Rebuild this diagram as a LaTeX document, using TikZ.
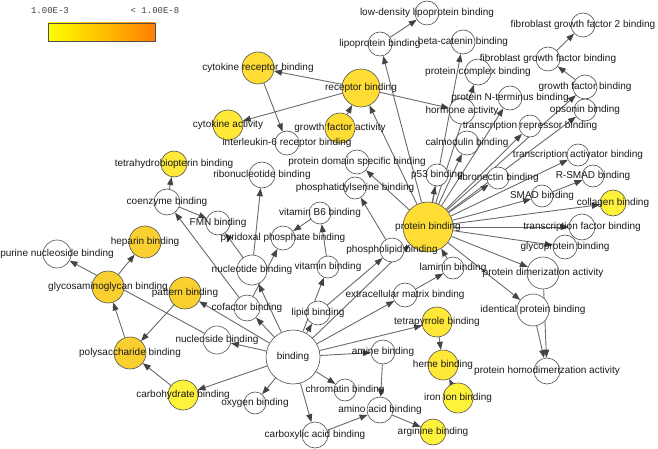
\documentclass[tikz,border=0pt]{standalone}
\usepackage{fontspec}
\setmainfont{Liberation Sans}
\newfontfamily\legendfont{Liberation Mono}
\usetikzlibrary{arrows.meta}
\pgfdeclarelayer{edges}
\pgfdeclarelayer{labels}
\pgfsetlayers{edges,main,labels}

\definecolor{ringgray}{HTML}{505050}
\definecolor{edgegray}{HTML}{6A6A6A}
\definecolor{tipgray}{HTML}{444444}
\definecolor{sigA}{HTML}{FFF23A}
\definecolor{sigB}{HTML}{FFE838}
\definecolor{sigC}{HTML}{FFDD35}
\definecolor{sigD}{HTML}{FAD030}

\tikzset{
  go/.style={circle, draw=ringgray, line width=0.6pt, fill=white, inner sep=0pt, minimum size=#1},
  go/.default=24pt,
  golabel/.style={inner sep=0pt, font=\fontsize{10}{12}\selectfont, text=black!90},
  isa/.style={draw=edgegray, line width=0.9pt, -{Triangle[length=8pt,width=6pt,color=tipgray]}},
}

% circle on the main layer, its text on top of everything
\newcommand{\goterm}[5]{%
  \node[go=#3, fill=#4] (#1) at (#2) {};
  \begin{pgfonlayer}{labels}\node[golabel] at (#1) {#5};\end{pgfonlayer}}

\begin{document}
\begin{tikzpicture}[x=1pt, y=-1pt]
  \useasboundingbox (0,0) rectangle (658,449);

  % legend
  \shade[left color=yellow, right color={rgb,255:red,255;green,128;blue,0}] (48,23) rectangle (155,41);
  \draw[ringgray, line width=0.8pt] (48,23) rectangle (155,41);
  \node[font=\legendfont\fontsize{9}{10}\selectfont, text=black!75] (pmax) at (50,11) {1.00E-3};
  \node[font=\legendfont\fontsize{9}{10}\selectfont, text=black!75] (pmin) at (155,11) {< 1.00E-8};

  % receptor part
  \goterm{recp}{361,88}{38pt}{sigC}{receptor binding}
  \goterm{ckrb}{258,68}{32pt}{sigC}{cytokine receptor binding}
  \goterm{ckact}{228,125}{30pt}{sigB}{cytokine activity}
  \goterm{gfact}{340,128}{30pt}{sigC}{growth factor activity}
  \goterm{il6}{287,143}{24pt}{white}{interleukin-6 receptor binding}
  \goterm{horm}{462,111}{26pt}{white}{hormone activity}

  % protein binding part
  \goterm{prot}{428,227}{50pt}{sigC}{protein binding}
  \goterm{lipo}{380,44}{24pt}{white}{lipoprotein binding}
  \goterm{ldl}{427,13}{24pt}{white}{low-density lipoprotein binding}
  \goterm{bcat}{463,42}{24pt}{white}{beta-catenin binding}
  \goterm{fgf2}{583,25}{24pt}{white}{fibroblast growth factor 2 binding}
  \goterm{fgfb}{548,59}{24pt}{white}{fibroblast growth factor binding}
  \goterm{pcomp}{478,72}{26pt}{white}{protein complex binding}
  \goterm{gfb}{585,87}{24pt}{white}{growth factor binding}
  \goterm{pnterm}{510,98}{24pt}{white}{protein N-terminus binding}
  \goterm{opso}{585,110}{22pt}{white}{opsonin binding}
  \goterm{trep}{530,126}{22pt}{white}{transcription repressor binding}
  \goterm{calm}{467,143}{24pt}{white}{calmodulin binding}
  \goterm{tact}{578,155}{22pt}{white}{transcription activator binding}
  \goterm{p53}{437,175}{22pt}{white}{p53 binding}
  \goterm{fibn}{498,178}{22pt}{white}{fibronectin binding}
  \goterm{rsmad}{593,176}{22pt}{white}{R-SMAD binding}
  \goterm{smad}{542,196}{22pt}{white}{SMAD binding}
  \goterm{coll}{613,203}{26pt}{sigA}{collagen binding}
  \goterm{tfac}{582,227}{26pt}{white}{transcription factor binding}
  \goterm{glyp}{565,247}{24pt}{white}{glycoprotein binding}
  \goterm{dimer}{543,273}{32pt}{white}{protein dimerization activity}
  \goterm{ident}{533,310}{32pt}{white}{identical protein binding}
  \goterm{homo}{547,371}{26pt}{white}{protein homodimerization activity}
  \goterm{pdom}{357,162}{24pt}{white}{protein domain specific binding}
  \goterm{lam}{453,268}{22pt}{white}{laminin binding}
  \goterm{ecm}{405,295}{24pt}{white}{extracellular matrix binding}

  % binding part
  \goterm{bind}{293,357}{54pt}{white}{binding}
  \goterm{lipid}{318,313}{24pt}{white}{lipid binding}
  \goterm{phlip}{392,250}{24pt}{white}{phospholipid binding}
  \goterm{pser}{355,188}{22pt}{white}{phosphatidylserine binding}
  \goterm{vit}{328,267}{22pt}{white}{vitamin binding}
  \goterm{b6}{320,213}{22pt}{white}{vitamin B6 binding}
  \goterm{pyr}{283,238}{24pt}{white}{pyridoxal phosphate binding}
  \goterm{cof}{247,308}{26pt}{white}{cofactor binding}
  \goterm{coen}{167,202}{26pt}{white}{coenzyme binding}
  \goterm{thb}{174,164}{26pt}{sigB}{tetrahydrobiopterin binding}
  \goterm{fmn}{218,223}{24pt}{white}{FMN binding}
  \goterm{nucl}{252,270}{30pt}{white}{nucleotide binding}
  \goterm{ribo}{262,175}{26pt}{white}{ribonucleotide binding}
  \goterm{nucs}{217,340}{28pt}{white}{nucleoside binding}
  \goterm{purn}{57,254}{28pt}{white}{purine nucleoside binding}
  \goterm{pat}{185,293}{32pt}{sigD}{pattern binding}
  \goterm{gag}{108,287}{32pt}{sigD}{glycosaminoglycan binding}
  \goterm{hep}{145,242}{32pt}{sigD}{heparin binding}
  \goterm{poly}{130,353}{32pt}{sigD}{polysaccharide binding}
  \goterm{carb}{183,395}{30pt}{sigA}{carbohydrate binding}
  \goterm{oxy}{255,403}{22pt}{white}{oxygen binding}
  \goterm{chrom}{345,390}{22pt}{white}{chromatin binding}
  \goterm{carbx}{315,435}{26pt}{white}{carboxylic acid binding}
  \goterm{amine}{383,352}{24pt}{white}{amine binding}
  \goterm{amino}{380,410}{26pt}{white}{amino acid binding}
  \goterm{arg}{433,432}{26pt}{sigA}{arginine binding}
  \goterm{tetra}{437,322}{30pt}{sigB}{tetrapyrrole binding}
  \goterm{heme}{443,365}{30pt}{sigB}{heme binding}
  \goterm{iron}{458,398}{30pt}{sigA}{iron ion binding}

  % is-a connectors
  \begin{pgfonlayer}{edges}
    \draw[isa] (recp) -- (ckrb);
    \draw[isa] (recp) -- (ckact);
    \draw[isa] (gfact) -- (recp);
    \draw[isa] (recp) -- (horm);
    \draw[isa] (ckrb) -- (il6);
    \draw[isa] (prot) -- (recp);
    \draw[isa] (prot) -- (lipo);
    \draw[isa] (lipo) -- (ldl);
    \draw[isa] (prot) -- (bcat);
    \draw[isa] (prot) -- (pcomp);
    \draw[isa] (prot) -- (pnterm);
    \draw[isa] (prot) -- (calm);
    \draw[isa] (prot) -- (trep);
    \draw[isa] (prot) -- (gfb);
    \draw[isa] (prot) -- (opso);
    \draw[isa] (gfb) -- (fgfb);
    \draw[isa] (fgfb) -- (fgf2);
    \draw[isa] (prot) -- (p53);
    \draw[isa] (prot) -- (fibn);
    \draw[isa] (prot) -- (tact);
    \draw[isa] (prot) -- (smad);
    \draw[isa] (smad) -- (rsmad);
    \draw[isa] (prot) -- (coll);
    \draw[isa] (prot) -- (tfac);
    \draw[isa] (prot) -- (glyp);
    \draw[isa] (prot) -- (dimer);
    \draw[isa] (prot) -- (ident);
    \draw[isa] (ident) -- (homo);
    \draw[isa] (dimer) -- (homo);
    \draw[isa] (prot) -- (pdom);
    \draw[isa] (lam) -- (prot);
    \draw[isa] (ecm) -- (lam);
    \draw[isa] (bind) -- (ecm);
    \draw[isa] (bind) -- (prot);
    \draw[isa] (bind) -- (lipid);
    \draw[isa] (lipid) -- (phlip);
    \draw[isa] (phlip) -- (pser);
    \draw[isa] (bind) -- (vit);
    \draw[isa] (vit) -- (b6);
    \draw[isa] (b6) -- (pyr);
    \draw[isa] (cof) -- (pyr);
    \draw[isa] (cof) -- (coen);
    \draw[isa] (coen) -- (thb);
    \draw[isa] (coen) -- (fmn);
    \draw[isa] (nucl) -- (fmn);
    \draw[isa] (nucl) -- (ribo);
    \draw[isa] (bind) -- (nucl);
    \draw[isa] (bind) -- (cof);
    \draw[isa] (bind) -- (nucs);
    \draw[isa] (nucs) -- (purn);
    \draw[isa] (bind) -- (pat);
    \draw[isa] (pat) -- (poly);
    \draw[isa] (carb) -- (poly);
    \draw[isa] (poly) -- (gag);
    \draw[isa] (gag) -- (hep);
    \draw[isa] (bind) -- (carb);
    \draw[isa] (bind) -- (oxy);
    \draw[isa] (bind) -- (chrom);
    \draw[isa] (bind) -- (carbx);
    \draw[isa] (bind) -- (amine);
    \draw[isa] (amine) -- (amino);
    \draw[isa] (carbx) -- (amino);
    \draw[isa] (amino) -- (arg);
    \draw[isa] (bind) -- (tetra);
    \draw[isa] (tetra) -- (heme);
    \draw[isa] (iron) -- (heme);
  \end{pgfonlayer}
\end{tikzpicture}
\end{document}
